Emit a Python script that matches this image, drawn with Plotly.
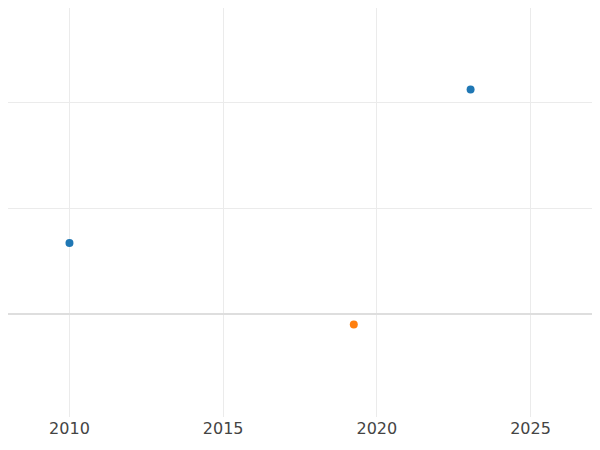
import plotly.graph_objects as go

blue_x = [2010.0, 2023.05]
blue_y = [0.67, 2.12]
orange_x = [2019.25]
orange_y = [-0.1]

fig = go.Figure()
fig.add_trace(go.Scatter(x=blue_x, y=blue_y, mode="markers", marker=dict(color="#1f77b4", size=8), showlegend=False))
fig.add_trace(go.Scatter(x=orange_x, y=orange_y, mode="markers", marker=dict(color="#ff7f0e", size=8), showlegend=False))
fig.update_layout(
    template="plotly_white",
    margin=dict(l=0, r=0, t=0, b=25),
    font=dict(family="DejaVu Sans", size=16, color="#444"),
    xaxis=dict(range=[2008, 2027], dtick=5, showline=False, zeroline=False, gridcolor="#ebebeb"),
    yaxis=dict(range=[-0.973, 2.89], dtick=1, showticklabels=False, zeroline=True,
               gridcolor="#ebebeb", zerolinecolor="#dedede", zerolinewidth=2),
)
fig.write_html("out.html")
